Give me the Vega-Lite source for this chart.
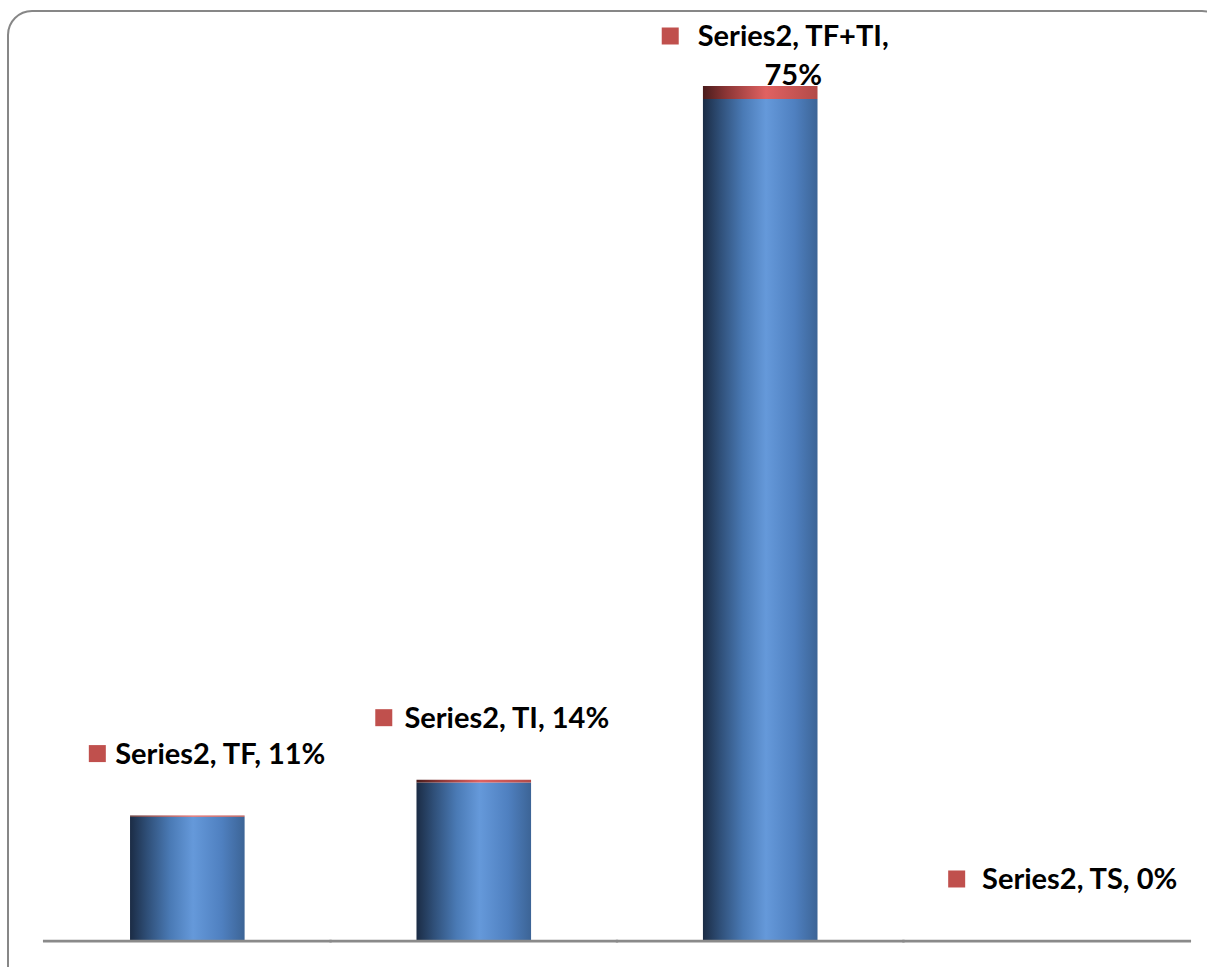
{
  "$schema": "https://vega.github.io/schema/vega-lite/v6.json",
  "width": 1218,
  "height": 979,
  "autosize": {"type": "none"},
  "padding": {"left": 8, "top": 11, "right": -19, "bottom": -23},
  "background": "white",
  "config": {
    "view": {"stroke": "#878787", "strokeWidth": 2, "cornerRadius": 24},
    "font": "Lato"
  },
  "data": {
    "values": [
      {"cat": "TF", "series": "Series1", "value": 10.9, "label": ""},
      {"cat": "TF", "series": "Series2", "value": 0.1, "label": "Series2, TF, 11%"},
      {"cat": "TI", "series": "Series1", "value": 13.9, "label": ""},
      {"cat": "TI", "series": "Series2", "value": 0.25, "label": "Series2, TI, 14%"},
      {"cat": "TF+TI", "series": "Series1", "value": 73.85, "label": ""},
      {"cat": "TF+TI", "series": "Series2", "value": 1.15, "label": "Series2, TF+TI,\n75%"},
      {"cat": "TS", "series": "Series1", "value": 0, "label": ""},
      {"cat": "TS", "series": "Series2", "value": 0, "label": "Series2, TS, 0%"}
    ]
  },
  "transform": [
    {"stack": "value", "groupby": ["cat"], "sort": [{"field": "series", "order": "ascending"}], "as": ["v0", "v1"]}
  ],
  "encoding": {
    "x": {
      "field": "cat",
      "type": "nominal",
      "sort": ["TF", "TI", "TF+TI", "TS"],
      "axis": null,
      "scale": {"paddingInner": 0.6, "paddingOuter": 0.426}
    }
  },
  "resolve": {"scale": {"y": "independent"}},
  "layer": [
    {
      "layer": [
        {
          "transform": [{"filter": "datum.series === 'Series1'"}],
          "mark": {
            "type": "bar",
            "color": {
              "gradient": "linear", "x1": 0, "x2": 1, "y1": 0, "y2": 0,
              "stops": [
                {"offset": 0, "color": "#1b2c45"},
                {"offset": 0.15, "color": "#2f4f78"},
                {"offset": 0.35, "color": "#4a7ab5"},
                {"offset": 0.55, "color": "#6599da"},
                {"offset": 0.8, "color": "#4f80c0"},
                {"offset": 1, "color": "#3c6496"}
              ]
            }
          },
          "encoding": {
            "y": {"field": "v1", "type": "quantitative", "axis": null,
                  "scale": {"domain": [-4.30, 81.58], "nice": false, "zero": false}},
            "y2": {"field": "v0"}
          }
        },
        {
          "transform": [{"filter": "datum.series === 'Series2'"}],
          "mark": {
            "type": "bar",
            "color": {
              "gradient": "linear", "x1": 0, "x2": 1, "y1": 0, "y2": 0,
              "stops": [
                {"offset": 0, "color": "#4a1c1c"},
                {"offset": 0.2, "color": "#8a3535"},
                {"offset": 0.55, "color": "#e06262"},
                {"offset": 1, "color": "#b24a48"}
              ]
            }
          },
          "encoding": {
            "y": {"field": "v1", "type": "quantitative"},
            "y2": {"field": "v0"}
          }
        },
        {
          "transform": [{"filter": "datum.series === 'Series1'"}],
          "mark": {"type": "bar", "color": "#8a8a8a", "width": {"band": 2.52}},
          "encoding": {
            "y": {"datum": 0.1, "type": "quantitative"},
            "y2": {"datum": -0.13}
          }
        }
      ]
    },
    {
      "transform": [{"filter": "datum.series === 'Series2'"}],
      "encoding": {
        "y": {"field": "v1", "type": "quantitative", "axis": null,
              "scale": {"domain": [-4.30, 73.95], "range": [979, 87], "clamp": true, "nice": false, "zero": false}}
      },
      "layer": [
        {
          "mark": {
            "type": "text", "lineBreak": "\n", "align": "center", "baseline": "top",
            "dx": 33, "dy": -75, "fontSize": 29, "fontWeight": "bold", "lineHeight": 39, "color": "#000000"
          },
          "encoding": {
            "text": {"field": "label"}
          }
        },
        {
          "mark": {
            "type": "point", "shape": "square", "filled": true, "size": 289, "opacity": 1,
            "color": "#C0504D", "xOffset": -90, "yOffset": -62
          }
        }
      ]
    }
  ]
}
